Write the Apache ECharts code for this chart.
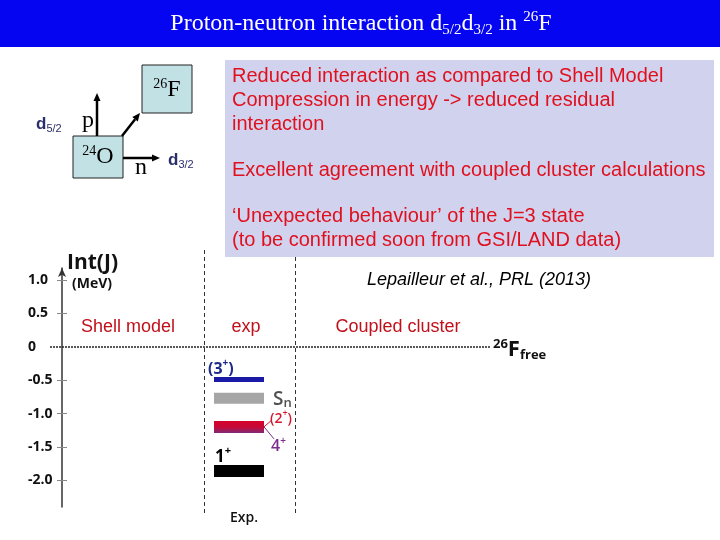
<!DOCTYPE html>
<html><head><meta charset="utf-8">
<script src="https://cdn.jsdelivr.net/npm/echarts@6/dist/echarts.min.js"></script>
<style>html,body{margin:0;padding:0;background:#fff}#c{width:720px;height:540px}</style>
</head><body><div id="c"></div>
<script>
// ---- data ----
const yTickValues = [-2, -1.5, -1, -0.5, 0, 0.5, 1];
const yMin = -2.4, yMax = 1.18;
const columnLabels = ['Shell model', 'exp', 'Coupled cluster'];
const levelNames = ['3', 'Sn', '2', '1'];
const levelEnergies = [-0.49, -0.77, -1.2, -1.86];
const textLines = [
  'Reduced interaction as compared to Shell Model',
  'Compression in energy -> reduced residual',
  'interaction',
  'Excellent agreement with coupled cluster calculations',
  '\u2018Unexpected behaviour\u2019 of the J=3 state',
  '(to be confirmed soon from GSI/LAND data)'
];
const reference = 'Lepailleur et al., PRL (2013)';

// ---- styles ----
const F = (size, fam, w, st) => [st || '', w || 'normal', size + 'px', fam].join(' ').trim();
const SERIF = '"Liberation Serif"', SANS = '"Liberation Sans"', CAL = '"Open Sans"';
const chart = echarts.init(document.getElementById('c'), null, {renderer: 'canvas'});
const levelX0 = 164, levelX1 = 214;
const redGrad = new echarts.graphic.LinearGradient(0, 0, 0, 1, [
  {offset: 0, color: '#d8002a'}, {offset: 0.55, color: '#c40a38'}, {offset: 1, color: '#7e2a78'}]);
const levelStyles = [
  {h: 5, fill: '#1a1aa6'},
  {h: 11, fill: '#a6a6a6'},
  {h: 12, fill: redGrad},
  {h: 12, fill: '#000'}
];
const supRich = (size, color, w) => ({
  m: {font: F(size, CAL, w || 'bold'), fill: color, lineHeight: size + 6},
  s: {font: F(Math.round(size * 0.62), CAL, w || 'bold'), fill: color, lineHeight: Math.round(size * 0.62), verticalAlign: 'top'}
});

function levelLabel(i, a, b) {
  const y = a[1];
  const out = [];
  if (i === 0) {
    out.push({type: 'text', x: a[0] - 6, y: y - 10, style: {text: '{m|(3}{s|+}{m|)}', align: 'left', verticalAlign: 'middle', rich: supRich(16, '#1f2a8c')}});
  } else if (i === 1) {
    out.push({type: 'text', x: b[0] + 9, y: y + 1, style: {text: '{S|S}{n|n}', align: 'left', verticalAlign: 'middle', rich: {
      S: {font: F(19, CAL, '600'), fill: '#505050', lineHeight: 22},
      n: {font: F(13, CAL, '600'), fill: '#505050', lineHeight: 13, verticalAlign: 'bottom'}}}});
  } else if (i === 2) {
    out.push({type: 'line', shape: {x1: b[0], y1: y, x2: b[0] + 8, y2: y - 7}, style: {stroke: '#c8102e', lineWidth: 1}});
    out.push({type: 'line', shape: {x1: b[0], y1: y, x2: b[0] + 10, y2: y + 12}, style: {stroke: '#7b2a8e', lineWidth: 1}});
    out.push({type: 'text', x: b[0] + 6, y: y - 8, style: {text: '{m|(2}{s|+}{m|)}', align: 'left', verticalAlign: 'middle', rich: supRich(14, '#d21a2e', '600')}});
    out.push({type: 'text', x: b[0] + 7, y: y + 20, style: {text: '{m|4}{s|+}', align: 'left', verticalAlign: 'middle', rich: supRich(16, '#7b2a8e', '600')}});
  } else {
    out.push({type: 'text', x: a[0] + 1, y: y - 14, style: {text: '{m|1}{s|+}', align: 'left', verticalAlign: 'middle', rich: supRich(17, '#000')}});
  }
  return out;
}

const option = {
  animation: false,
  grid: {left: 50, right: 0, top: 268, bottom: 33},
  xAxis: {type: 'value', min: 0, max: 670, show: false},
  yAxis: [{
    type: 'value', min: yMin, max: yMax, position: 'left', offset: -12,
    splitLine: {show: false},
    axisLine: {show: true, lineStyle: {color: '#333', width: 1.5}, symbol: ['none', 'arrow'], symbolSize: [6, 9]},
    axisTick: {show: true, length: 5, lineStyle: {color: '#888'}, customValues: yTickValues.filter(v => v !== 0)},
    axisLabel: {customValues: yTickValues, align: 'left', margin: 34, color: '#111',
      fontFamily: CAL, fontWeight: 'bold', fontSize: 14,
      formatter: v => (v === 0 ? '0' : v.toFixed(1))}
  }, {
    type: 'value', min: yMin, max: yMax, position: 'left', offset: -12,
    splitLine: {show: false}, axisLine: {show: false}, axisLabel: {show: false},
    axisTick: {show: true, inside: true, length: 5, lineStyle: {color: '#888'}, customValues: yTickValues.filter(v => v !== 0)}
  }],
  series: [{
    type: 'custom',
    yAxisIndex: 0,
    data: levelEnergies.map((e, i) => [i, e]),
    encode: {x: 0, y: 1},
    renderItem: (params, api) => {
      const i = params.dataIndex;
      const e = api.value(1);
      const a = api.coord([levelX0, e]);
      const b = api.coord([levelX1, e]);
      const st = levelStyles[i];
      const children = [{type: 'rect', shape: {x: a[0], y: a[1] - st.h / 2, width: b[0] - a[0], height: st.h}, style: {fill: st.fill}}];
      return {type: 'group', children: children.concat(levelLabel(i, a, b))};
    },
    markLine: {
      silent: true, symbol: ['none', 'none'], label: {show: false},
      lineStyle: {color: '#222', type: [2, 1], width: 1.5},
      data: [[{coord: [0, 0]}, {coord: [440, 0]}]]
    }
  }],
  graphic: [
    // title bar
    {type: 'rect', shape: {x: 0, y: 0, width: 720, height: 47}, style: {fill: '#0505f2'}, z: 1},
    {type: 'text', x: 361, y: 24, z: 2, style: {
      text: 'Proton-neutron interaction d{sub|5/2}d{sub|3/2} in {sup|26}F',
      align: 'center', verticalAlign: 'middle', font: F(24, SERIF), fill: '#fff', lineHeight: 28,
      rich: {sub: {font: F(15, SERIF), fill: '#fff', lineHeight: 15, verticalAlign: 'bottom'},
             sup: {font: F(15, SERIF), fill: '#fff', lineHeight: 15, verticalAlign: 'top'}}}},
    // text box
    {type: 'rect', shape: {x: 225, y: 60, width: 489, height: 197}, style: {fill: '#d1d3ee'}},
    ...textLines.map((t, i) => ({type: 'text', x: 232, y: [76, 100, 124, 170, 216, 240][i],
      style: {text: t, align: 'left', verticalAlign: 'middle', font: F(20, SANS), fill: '#e0101e'}})),
    // diagram
    {type: 'rect', shape: {x: 73, y: 136, width: 50, height: 42}, style: {fill: '#c2e1e4', stroke: '#222', lineWidth: 1}},
    {type: 'rect', shape: {x: 142, y: 65, width: 50, height: 48}, style: {fill: '#c2e1e4', stroke: '#222', lineWidth: 1}},
    {type: 'line', shape: {x1: 97, y1: 136, x2: 97, y2: 100}, style: {stroke: '#000', lineWidth: 2.5}},
    {type: 'polygon', shape: {points: [[97, 93], [93.5, 101], [100.5, 101]]}, style: {fill: '#000'}},
    {type: 'line', shape: {x1: 123, y1: 158, x2: 153, y2: 158}, style: {stroke: '#000', lineWidth: 2.5}},
    {type: 'polygon', shape: {points: [[160, 158], [152, 154.5], [152, 161.5]]}, style: {fill: '#000'}},
    {type: 'line', shape: {x1: 122, y1: 136, x2: 135.1, y2: 119.3}, style: {stroke: '#000', lineWidth: 2.5}},
    {type: 'polygon', shape: {points: [[140, 113], [137.8, 121.5], [132.3, 117.1]]}, style: {fill: '#000'}},
    {type: 'text', x: 98, y: 157, style: {text: '{s|24}{m|O}', align: 'center', verticalAlign: 'middle',
      rich: {m: {font: F(24, SERIF), fill: '#000', lineHeight: 26}, s: {font: F(14, SERIF), fill: '#000', lineHeight: 14, verticalAlign: 'top'}}}},
    {type: 'text', x: 167, y: 90, style: {text: '{s|26}{m|F}', align: 'center', verticalAlign: 'middle',
      rich: {m: {font: F(24, SERIF), fill: '#000', lineHeight: 26}, s: {font: F(14, SERIF), fill: '#000', lineHeight: 14, verticalAlign: 'top'}}}},
    {type: 'text', x: 88, y: 121, style: {text: 'p', align: 'center', verticalAlign: 'middle', font: F(24, SERIF), fill: '#000'}},
    {type: 'text', x: 141, y: 168, style: {text: 'n', align: 'center', verticalAlign: 'middle', font: F(24, SERIF), fill: '#000'}},
    {type: 'text', x: 36, y: 124, style: {text: '{d|d}{s|5/2}', align: 'left', verticalAlign: 'middle',
      rich: {d: {font: F(17, SANS, 'bold'), fill: '#2b2f6b', lineHeight: 20}, s: {font: F(11, SANS), fill: '#2b2f6b', lineHeight: 11, verticalAlign: 'bottom'}}}},
    {type: 'text', x: 168, y: 160, style: {text: '{d|d}{s|3/2}', align: 'left', verticalAlign: 'middle',
      rich: {d: {font: F(17, SANS, 'bold'), fill: '#2b2f6b', lineHeight: 20}, s: {font: F(11, SANS), fill: '#2b2f6b', lineHeight: 11, verticalAlign: 'bottom'}}}},
    // chart decorations
    {type: 'line', shape: {x1: 204.5, y1: 250, x2: 204.5, y2: 514}, style: {stroke: '#333', lineWidth: 1, lineDash: [4, 3]}},
    {type: 'line', shape: {x1: 295.5, y1: 257, x2: 295.5, y2: 514}, style: {stroke: '#333', lineWidth: 1, lineDash: [4, 3]}},
    {type: 'text', x: 67, y: 263, style: {text: 'Int(J)', align: 'left', verticalAlign: 'middle', font: F(21, CAL, 'bold'), fill: '#111'}},
    {type: 'text', x: 72, y: 284, style: {text: '(MeV)', align: 'left', verticalAlign: 'middle', font: F(14, CAL, 'bold'), fill: '#111'}},
    {type: 'text', x: 479, y: 280, style: {text: reference, align: 'center', verticalAlign: 'middle', font: F(18, SANS, 'normal', 'italic'), fill: '#000'}},
    ...columnLabels.map((t, i) => ({type: 'text', x: [128, 246, 398][i], y: 327,
      style: {text: t, align: 'center', verticalAlign: 'middle', font: F(18, SANS), fill: '#c0101a'}})),
    {type: 'text', x: 493, y: 350, style: {text: '{s|26}{F|F}{b|free}', align: 'left', verticalAlign: 'middle',
      rich: {F: {font: F(22, CAL, 'bold'), fill: '#111', lineHeight: 24},
             s: {font: F(13, CAL, 'bold'), fill: '#111', lineHeight: 13, verticalAlign: 'top'},
             b: {font: F(13, CAL, 'bold'), fill: '#111', lineHeight: 13, verticalAlign: 'bottom'}}}},
    {type: 'text', x: 244, y: 518, style: {text: 'Exp.', align: 'center', verticalAlign: 'middle', font: F(14, CAL, '600'), fill: '#111'}}
  ]
};
chart.setOption(option);
</script></body></html>
